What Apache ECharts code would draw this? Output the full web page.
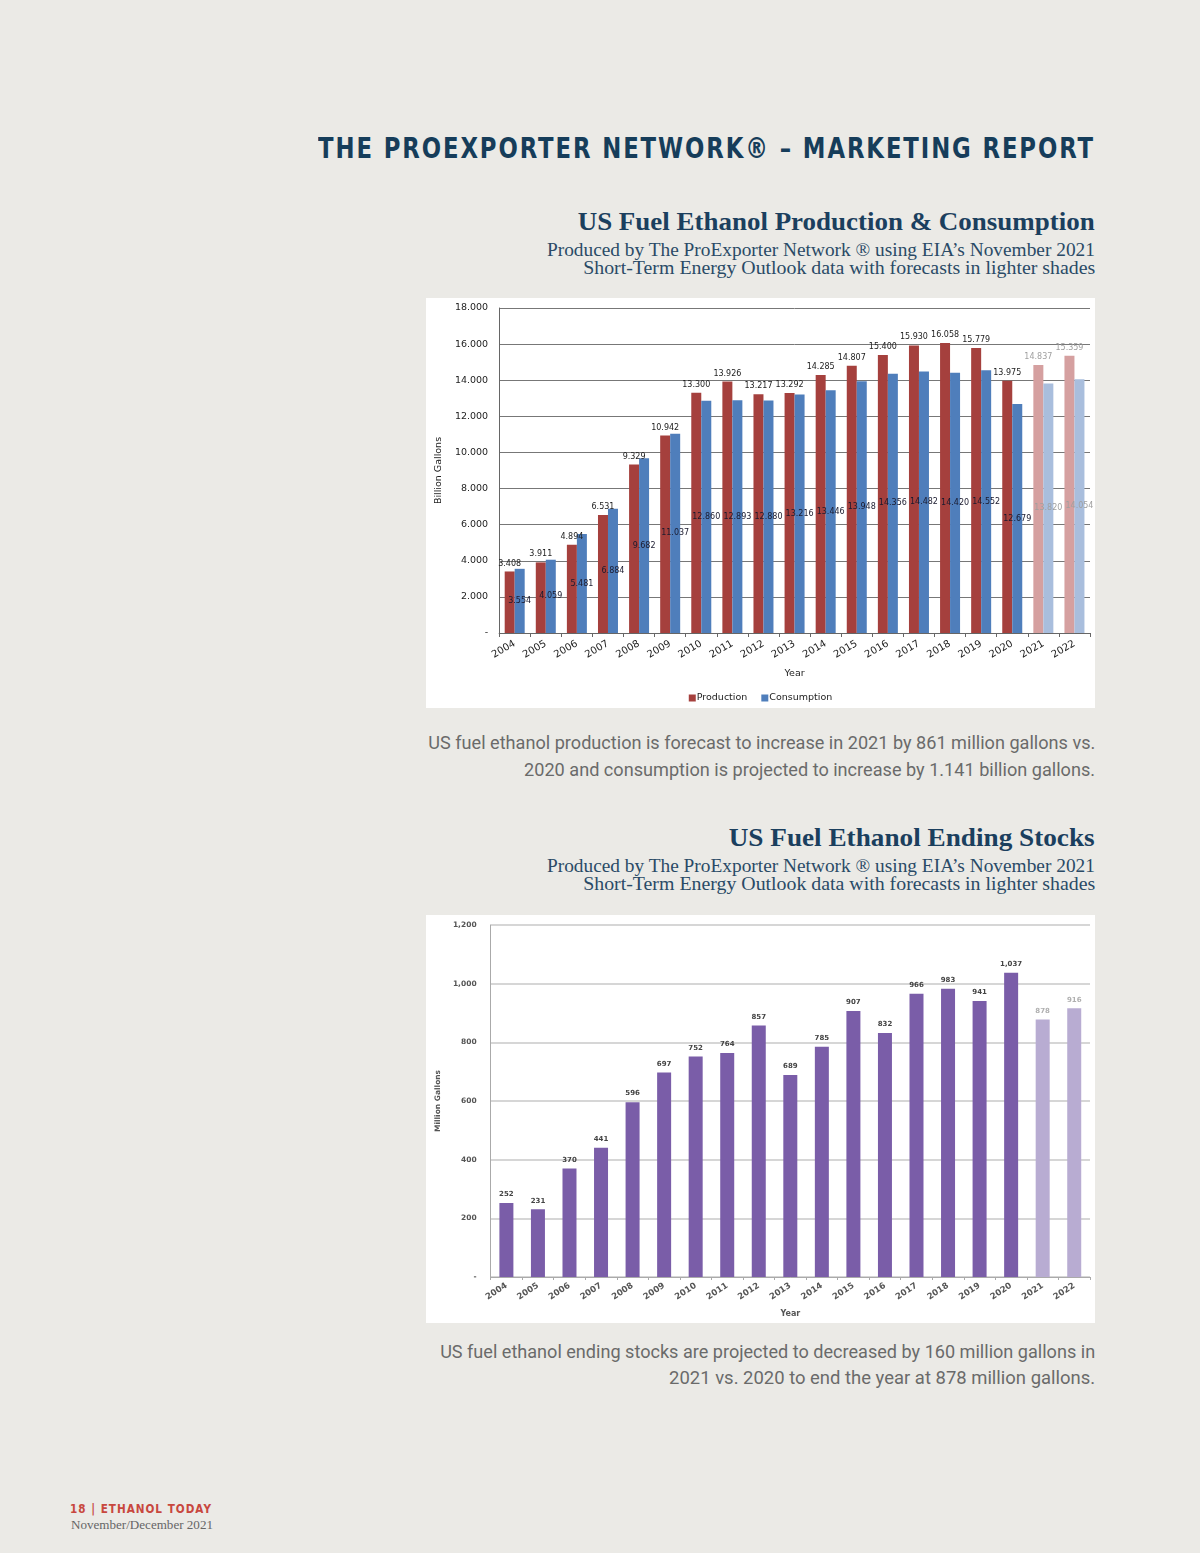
<!DOCTYPE html>
<html>
<head>
<meta charset="utf-8">
<script src="https://cdn.jsdelivr.net/npm/echarts@6/dist/echarts.min.js"></script>
<style>
  html, body { margin:0; padding:0; }
  body { width:1200px; height:1553px; background:#ebeae6; position:relative; overflow:hidden; }
  .abs { position:absolute; }
  .fit { transform-origin: right top; }
  #header { right:105px; top:131px; font-family:"DejaVu Sans",sans-serif; font-weight:bold; font-size:29px; letter-spacing:2.4px; color:#163d5a; white-space:nowrap; }
  .ctitle { right:105px; font-family:"Liberation Serif","DejaVu Serif",serif; font-weight:bold; font-size:26px; color:#1b3f5e; white-space:nowrap; }
  .csub { right:105px; font-family:"Liberation Serif","DejaVu Serif",serif; font-size:18.5px; line-height:18.5px; color:#2a4a66; white-space:nowrap; }
  .cap { right:105px; font-family:"Roboto","Liberation Sans",sans-serif; font-size:18.5px; line-height:27px; color:#6a6a6a; white-space:nowrap; }
  .chart { background:#fff; }
  #foot1 { left:70px; top:1501px; font-family:"DejaVu Sans",sans-serif; font-weight:bold; font-size:12.5px; letter-spacing:1.2px; color:#c8473e; transform-origin:left top; white-space:nowrap; }
  #foot2 { left:71px; top:1518px; font-family:"Liberation Serif",serif; font-size:12.5px; color:#666; transform-origin:left top; white-space:nowrap; }
</style>
</head>
<body>
<div id="header" class="abs fit" data-w="777">THE PROEXPORTER NETWORK® – MARKETING REPORT</div>

<div class="abs ctitle fit" data-w="517" style="top:207px;">US Fuel Ethanol Production &amp; Consumption</div>
<div class="abs csub fit" data-w="548" style="top:241px;">Produced by The ProExporter Network ® using EIA’s November 2021</div>
<div class="abs csub fit" data-w="512" style="top:259px;">Short-Term Energy Outlook data with forecasts in lighter shades</div>
<div id="c1" class="abs chart" style="left:426px; top:298px; width:669px; height:410px;"></div>
<div class="abs cap fit" data-w="667" style="top:730px;">US fuel ethanol production is forecast to increase in 2021 by 861 million gallons vs.</div>
<div class="abs cap fit" data-w="571" style="top:757px;">2020 and consumption is projected to increase by 1.141 billion gallons.</div>

<div class="abs ctitle fit" data-w="366" style="top:823px;">US Fuel Ethanol Ending Stocks</div>
<div class="abs csub fit" data-w="548" style="top:857px;">Produced by The ProExporter Network ® using EIA’s November 2021</div>
<div class="abs csub fit" data-w="512" style="top:875px;">Short-Term Energy Outlook data with forecasts in lighter shades</div>
<div id="c2" class="abs chart" style="left:426px; top:915px; width:669px; height:408px;"></div>
<div class="abs cap fit" data-w="655" style="top:1339px;">US fuel ethanol ending stocks are projected to decreased by 160 million gallons in</div>
<div class="abs cap fit" data-w="426" style="top:1365px;">2021 vs. 2020 to end the year at 878 million gallons.</div>

<div id="foot1" class="abs fit" data-w="142">18 | ETHANOL TODAY</div>
<div id="foot2" class="abs fit" data-w="142">November/December 2021</div>

<script>
// ---- Data ----
const years = ['2004','2005','2006','2007','2008','2009','2010','2011','2012','2013','2014','2015','2016','2017','2018','2019','2020','2021','2022'];
const forecastYears = ['2021','2022'];
const production = [3.408,3.911,4.894,6.531,9.329,10.942,13.300,13.926,13.217,13.292,14.285,14.807,15.400,15.930,16.058,15.779,13.975,14.837,15.359];
const consumption = [3.554,4.059,5.481,6.884,9.682,11.037,12.860,12.893,12.880,13.216,13.446,13.948,14.356,14.482,14.420,14.552,12.679,13.820,14.054];
const endingStocks = [252,231,370,441,596,697,752,764,857,689,785,907,832,966,983,941,1037,878,916];
const yTicks1 = ['-','2.000','4.000','6.000','8.000','10.000','12.000','14.000','16.000','18.000'];
const yTicks2 = ['-','200','400','600','800','1,000','1,200'];

// fit text widths to the page layout
document.querySelectorAll('.fit').forEach(el => {
  const target = parseFloat(el.dataset.w);
  const w = el.getBoundingClientRect().width;
  if (w > 0) el.style.transform = 'scaleX(' + (target / w) + ')';
});

const isF = i => forecastYears.indexOf(years[i]) >= 0;

// ---- Chart 1 ----
const c1 = echarts.init(document.getElementById('c1'), null, {renderer:'canvas'});
const lblFont = 'DejaVu Sans, sans-serif';
function mk(vals, normal, light, labelColor) {
  return vals.map((v,i) => ({
    value: v,
    itemStyle: { color: isF(i) ? light : normal },
    label: { color: isF(i) ? '#a0a0a0' : labelColor }
  }));
}
c1.setOption({
  animation:false,
  grid:{ left:71, right:5, top:10, bottom:75 },
  legend:{
    top:390, left:'center', itemWidth:7, itemHeight:7, itemGap:14,
    icon:'rect',
    textStyle:{ fontFamily:lblFont, fontSize:9.5, color:'#222', padding:[0,0,0,-4] },
    data:['Production','Consumption']
  },
  xAxis:{
    type:'category', data:years,
    name:'Year', nameLocation:'middle', nameGap:36,
    nameTextStyle:{ fontFamily:lblFont, fontSize:9.5, color:'#222' },
    axisLine:{ lineStyle:{ color:'#666' } },
    axisTick:{ show:true, lineStyle:{ color:'#666' }, length:4 },
    axisLabel:{ rotate:30, fontFamily:lblFont, fontSize:10, color:'#222', margin:10 }
  },
  yAxis:{
    type:'value', min:0, max:18, interval:2,
    name:'Billion Gallons', nameLocation:'middle', nameGap:51, nameRotate:90,
    nameTextStyle:{ fontFamily:lblFont, fontSize:9.5, color:'#222' },
    axisLine:{ show:true, lineStyle:{ color:'#666' } },
    axisTick:{ show:false },
    splitLine:{ lineStyle:{ color:'#777', width:1 } },
    axisLabel:{ fontFamily:lblFont, fontSize:9.5, color:'#222', margin:11,
      formatter:(v)=> yTicks1[Math.round(v/2)] }
  },
  series:[
    { name:'Production', type:'bar', barWidth:10, barGap:'0%',
      itemStyle:{ color:'#a5403d' },
      data: mk(production, '#a5403d', '#d5a0a0', '#222'),
      label:{ show:true, position:'top', distance:4, fontFamily:lblFont, fontSize:8, color:'#222',
        formatter:p=>p.value.toFixed(3) } },
    { name:'Consumption', type:'bar', barWidth:10, barGap:'0%',
      itemStyle:{ color:'#4f7ebb' },
      data: mk(consumption, '#4f7ebb', '#a9bedd', '#1a1a2e'),
      label:{ show:true, position:'inside', fontFamily:lblFont, fontSize:8, color:'#1a1a2e',
        formatter:p=>p.value.toFixed(3) } }
  ]
});

// ---- Chart 2 ----
const c2 = echarts.init(document.getElementById('c2'), null, {renderer:'canvas'});
c2.setOption({
  animation:false,
  grid:{ left:61, right:5, top:10, bottom:45 },
  xAxis:{
    type:'category', data:years,
    name:'Year', nameLocation:'middle', nameGap:33,
    nameTextStyle:{ fontFamily:lblFont, fontSize:8, fontWeight:'bold', color:'#555' },
    axisLine:{ lineStyle:{ color:'#aaa' } },
    axisTick:{ show:true, lineStyle:{ color:'#aaa' }, length:3 },
    axisLabel:{ rotate:33, fontFamily:lblFont, fontSize:8.5, fontWeight:'bold', color:'#555', margin:8 }
  },
  yAxis:{
    type:'value', min:0, max:1200, interval:200,
    name:'Million Gallons', nameLocation:'middle', nameGap:48, nameRotate:90,
    nameTextStyle:{ fontFamily:lblFont, fontSize:7.5, fontWeight:'bold', color:'#555' },
    axisLine:{ show:true, lineStyle:{ color:'#aaa' } },
    axisTick:{ show:false },
    splitLine:{ lineStyle:{ color:'#c8c8c8', width:1.5 } },
    axisLabel:{ fontFamily:lblFont, fontSize:7.5, fontWeight:'bold', color:'#555', margin:14,
      formatter:(v)=> yTicks2[Math.round(v/200)] }
  },
  series:[
    { name:'Ending Stocks', type:'bar', barWidth:14,
      data: endingStocks.map((v,i)=>({ value:v,
        itemStyle:{ color: isF(i) ? '#b8acd2' : '#7a5da8' },
        label:{ color: isF(i) ? '#b0b0b0' : '#444' } })),
      label:{ show:true, position:'top', distance:5, fontFamily:lblFont, fontSize:7, fontWeight:'bold',
        formatter:p=> p.value >= 1000 ? (Math.floor(p.value/1000)+','+String(p.value%1000).padStart(3,'0')) : String(p.value) } }
  ]
});
</script>
</body>
</html>
